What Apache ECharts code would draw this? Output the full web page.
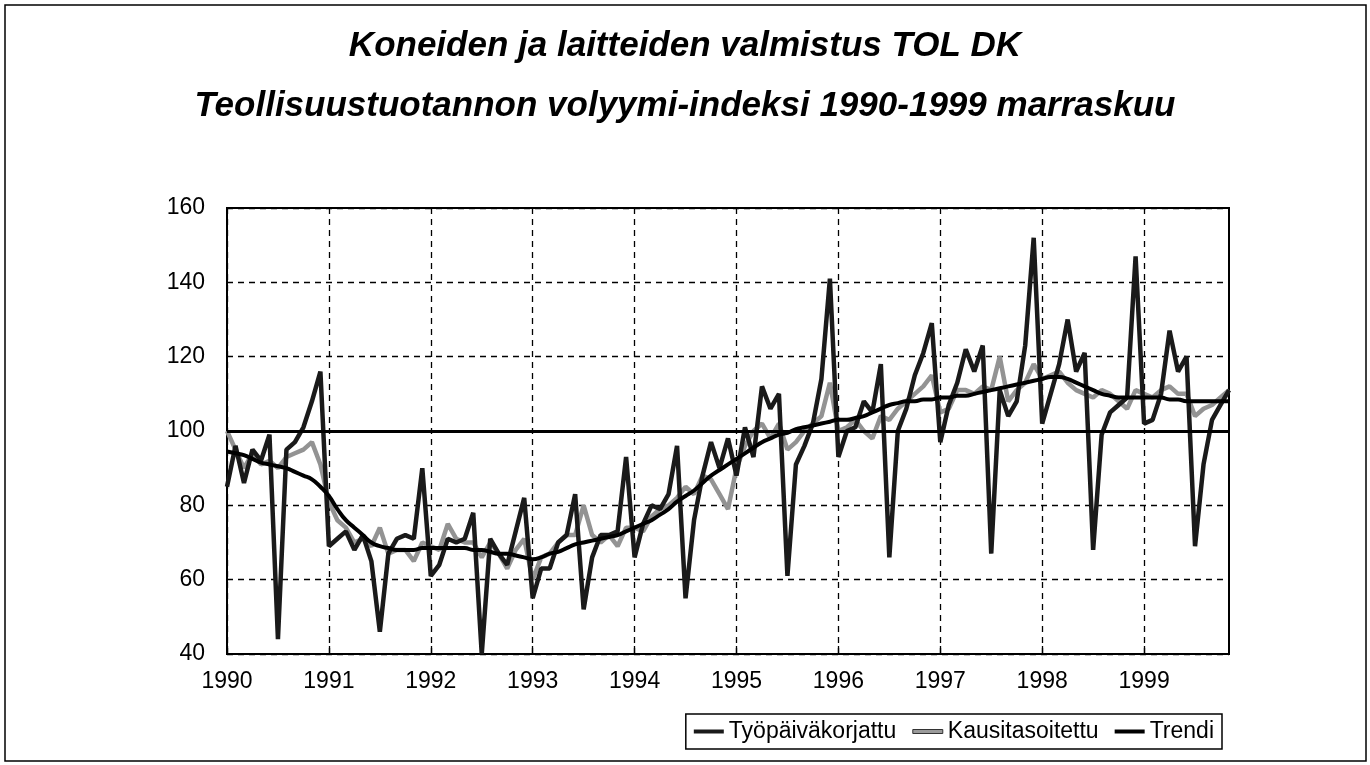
<!DOCTYPE html>
<html>
<head>
<meta charset="utf-8">
<title>Koneiden ja laitteiden valmistus TOL DK</title>
<script src="https://cdn.jsdelivr.net/npm/echarts@6/dist/echarts.min.js"></script>
<style>
  html, body { margin: 0; padding: 0; background: #fff; }
  #main { width: 1370px; height: 765px; }
</style>
</head>
<body>
<div id="main"></div>
<script>
// tick labels (one per January)
const years = ['1990', '1991', '1992', '1993', '1994', '1995', '1996', '1997', '1998', '1999'];

// monthly values 1990/01 - 1999/11
const tyopaivakorjattu = [
  85, 96, 86, 95, 92, 99, 44, 95, 97, 101, 108, 116,
  69, 71, 73, 68, 72, 65, 46, 67, 71, 72, 71, 90,
  61, 64, 71, 70, 71, 78, 40, 71, 67, 64, 73, 82,
  55, 63, 63, 70, 72, 83, 52, 66, 72, 72, 73, 93,
  66, 75, 80, 79, 83, 96, 55, 76, 88, 97, 90, 98,
  88, 101, 93, 112, 106, 110, 61, 91, 96, 102, 114, 141,
  93, 100, 101, 108, 105, 118, 66, 100, 106, 115, 121, 129,
  97, 107, 113, 122, 116, 123, 67, 111, 104, 108, 123, 152,
  102, 110, 118, 130, 116, 121, 68, 99, 105, 107, 109, 147,
  102, 103, 110, 127, 116, 120, 69, 91, 103, 107, 111
];
const kausitasoitettu = [
  100, 95, 90, 94, 91, 92, 90, 93, 94, 95, 97, 91,
  81, 76, 74, 70, 71, 69, 74, 67, 68, 68, 65, 70,
  69, 68, 75, 71, 70, 70, 66, 70, 67, 63, 68, 71,
  60, 66, 67, 70, 72, 72, 80, 72, 70, 72, 69, 74,
  74, 73, 77, 79, 80, 82, 85, 83, 88, 87, 83, 79,
  90, 96, 100, 102, 98, 102, 95, 97, 100, 102, 104, 113,
  100, 101, 103, 100, 98, 104, 103, 106, 108, 110, 112, 115,
  105, 106, 111, 111, 110, 112, 111, 120, 108, 111, 113, 118,
  114, 115, 116, 113, 111, 110, 109, 111, 110, 108, 106, 111,
  110, 109, 111, 112, 110, 110, 104, 106, 107, 109, 111
];
const trendi = [
  94.5, 94, 93.5, 92.5, 91.5, 91, 90.5, 90, 89, 88, 87, 85,
  82.5, 79, 76, 74, 72, 70, 69, 68.5, 68, 68, 68, 68.5,
  68.5, 68.5, 68.5, 68.5, 68.5, 68, 68, 67.5, 67, 67, 66.5, 66,
  65.5, 66, 67, 67.5, 68.5, 69.5, 70, 70.5, 71, 71.5, 72, 73,
  74, 75, 76, 77.5, 79, 81, 82.5, 84, 86, 88, 89.5, 91,
  92.5, 94, 95.5, 97, 98, 99, 99.5, 100.5, 101, 101.5, 102, 102.5,
  103, 103, 103.5, 104, 105, 106, 107, 107.5, 108, 108, 108.5, 108.5,
  109, 109, 109.5, 109.5, 110, 110.5, 111, 111.5, 112, 112.5, 113, 113.5,
  114, 114.5, 114.5, 114, 113, 112, 111, 110, 109.5, 109, 109, 109,
  109, 109, 109, 108.5, 108.5, 108, 108, 108, 108, 108, 108
];

// one category per month
const months = [];
years.forEach(function (y) {
  for (let m = 1; m <= 12; m++) {
    if (months.length < tyopaivakorjattu.length) {
      months.push(y + 'M' + (m < 10 ? '0' + m : m));
    }
  }
});

const font = "'Liberation Sans', Arial, sans-serif";
const dash = { color: '#000', width: 1.3, type: [6, 5] };

const option = {
  backgroundColor: '#fff',
  animation: false,
  textStyle: { fontFamily: font, color: '#000' },
  title: [
    {
      text: 'Koneiden ja laitteiden valmistus TOL DK',
      left: 'center',
      top: 24,
      textStyle: { fontFamily: font, fontSize: 35, fontStyle: 'italic', fontWeight: 'bold', color: '#000' }
    },
    {
      text: 'Teollisuustuotannon volyymi-indeksi 1990-1999 marraskuu',
      left: 'center',
      top: 84,
      textStyle: { fontFamily: font, fontSize: 35, fontStyle: 'italic', fontWeight: 'bold', color: '#000' }
    }
  ],
  graphic: [
    {
      type: 'rect',
      shape: { x: 5, y: 5, width: 1361, height: 756 },
      style: { fill: 'none', stroke: '#000', lineWidth: 1.5 },
      silent: true
    }
  ],
  legend: {
    right: 148,
    top: 714,
    orient: 'horizontal',
    icon: 'rect',
    itemWidth: 30,
    itemHeight: 4,
    itemGap: 16,
    padding: [6, 8],
    borderColor: '#000',
    borderWidth: 1.5,
    borderRadius: 0,
    textStyle: { fontFamily: font, fontSize: 23, color: '#000' },
    data: [
      { name: 'Työpäiväkorjattu', itemStyle: { color: '#1a1a1a' } },
      { name: 'Kausitasoitettu', itemStyle: { color: '#9a9a9a', borderColor: '#333', borderWidth: 1 } },
      { name: 'Trendi', itemStyle: { color: '#000' } }
    ]
  },
  grid: {
    left: 227,
    right: 141,
    top: 208,
    bottom: 111,
    show: true,
    borderColor: '#000',
    borderWidth: 2,
    containLabel: false
  },
  xAxis: {
    type: 'category',
    data: months,
    boundaryGap: false,
    axisLine: { show: true, lineStyle: { color: '#000', width: 2 } },
    axisTick: { show: true, inside: true, length: 8, interval: 11, lineStyle: { color: '#000', width: 1.3 } },
    axisLabel: {
      interval: 11,
      margin: 16,
      fontSize: 23,
      fontFamily: font,
      color: '#000',
      formatter: function (v) { return v.slice(0, 4); }
    },
    splitLine: { show: true, interval: 11, lineStyle: dash }
  },
  yAxis: {
    type: 'value',
    min: 40,
    max: 160,
    interval: 20,
    axisLine: { show: true, lineStyle: { color: '#000', width: 2 } },
    axisTick: { show: false },
    axisLabel: { margin: 22, fontSize: 23, fontFamily: font, color: '#000' },
    splitLine: { show: true, lineStyle: dash }
  },
  series: [
    {
      name: 'Kausitasoitettu',
      type: 'line',
      data: kausitasoitettu,
      showSymbol: false,
      z: 2,
      lineStyle: { color: '#939393', width: 4.5 }
    },
    {
      name: 'Työpäiväkorjattu',
      type: 'line',
      data: tyopaivakorjattu,
      showSymbol: false,
      z: 3,
      lineStyle: { color: '#1a1a1a', width: 4.5 }
    },
    {
      name: 'Trendi',
      type: 'line',
      data: trendi,
      showSymbol: false,
      smooth: true,
      z: 4,
      lineStyle: { color: '#000', width: 4 },
      markLine: {
        silent: true,
        symbol: ['none', 'none'],
        label: { show: false },
        lineStyle: { color: '#000', width: 3, type: 'solid' },
        data: [{ yAxis: 100 }]
      }
    }
  ]
};

const myChart = echarts.init(document.getElementById('main'));
myChart.setOption(option);
</script>
</body>
</html>
